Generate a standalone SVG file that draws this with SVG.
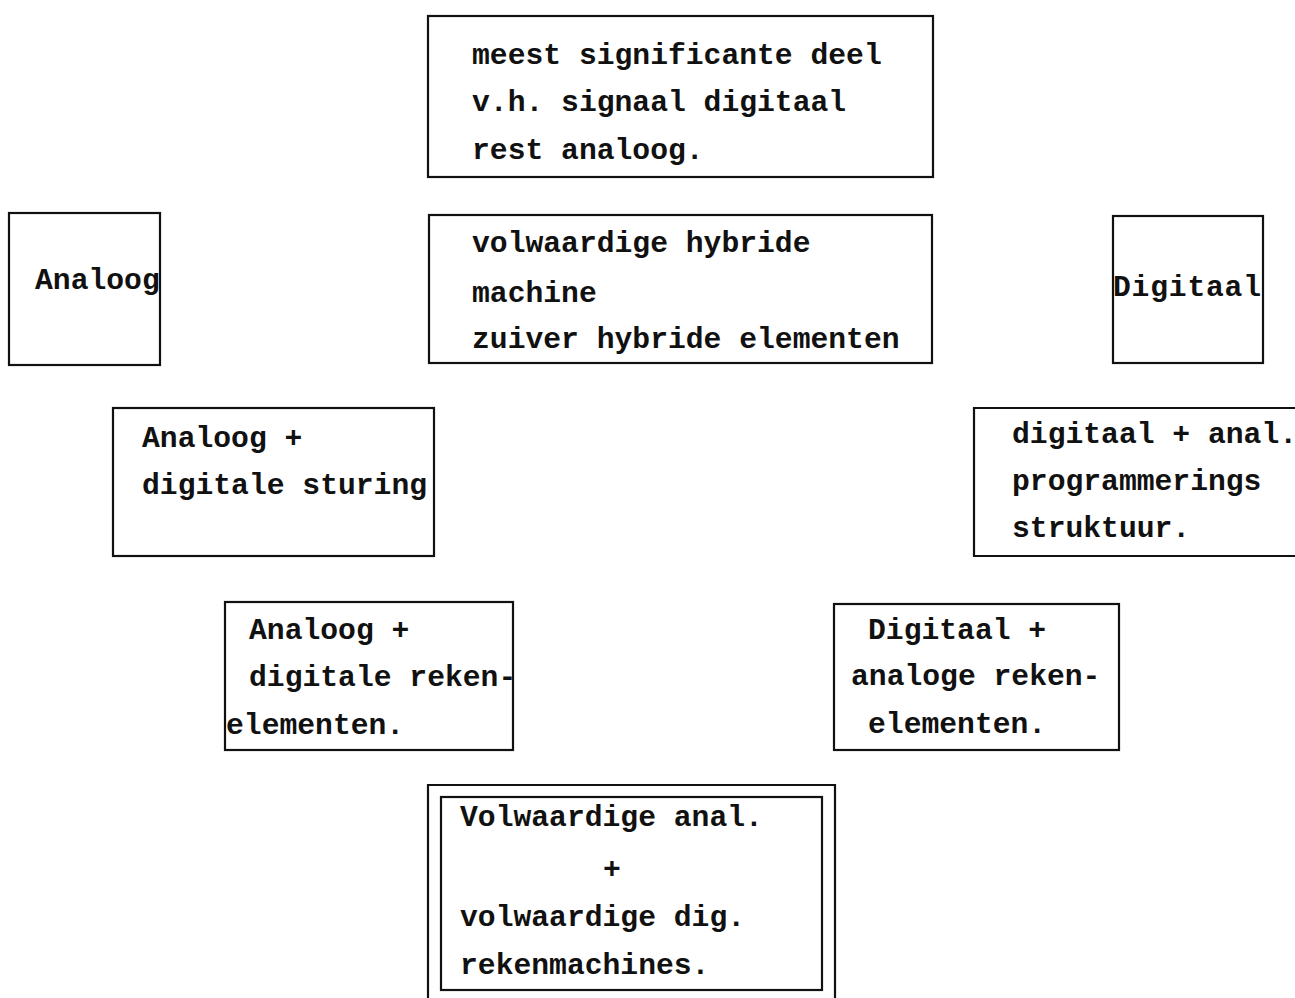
<svg xmlns="http://www.w3.org/2000/svg" width="1295" height="998" viewBox="0 0 1295 998">
<style>
.box{fill:none;stroke:#111;stroke-width:2.2}
.t{font-family:"Liberation Mono","DejaVu Sans Mono",monospace;font-weight:bold;font-size:29.7px;fill:#111}
</style>
<rect width="1295" height="998" fill="#fff"/>
<g id="n-top">
<rect class="box" x="428" y="16" width="505" height="161"/>
<text class="t" x="472" y="64">meest significante deel</text>
<text class="t" x="472" y="111">v.h. signaal digitaal</text>
<text class="t" x="472" y="159">rest analoog.</text>
</g>
<g id="n-analoog">
<rect class="box" x="9" y="213" width="151" height="152"/>
<text class="t" x="35" y="289">Analoog</text>
</g>
<g id="n-hybride">
<rect class="box" x="429" y="215" width="503" height="148"/>
<text class="t" x="472" y="252">volwaardige hybride</text>
<text class="t" x="472" y="302">machine</text>
<text class="t" x="472" y="348">zuiver hybride elementen</text>
</g>
<g id="n-digitaal">
<rect class="box" x="1113" y="216" width="150" height="147"/>
<text class="t" x="1113" y="296" textLength="148">Digitaal</text>
</g>
<g id="n-analoog-sturing">
<rect class="box" x="113" y="408" width="321" height="148"/>
<text class="t" x="142" y="447">Analoog +</text>
<text class="t" x="142" y="494">digitale sturing</text>
</g>
<g id="n-digitaal-prog">
<path class="box" d="M1297 408 H974 V556 H1297"/>
<text class="t" x="1012" y="443">digitaal + anal.</text>
<text class="t" x="1012" y="490">programmerings</text>
<text class="t" x="1012" y="537">struktuur.</text>
</g>
<g id="n-analoog-reken">
<rect class="box" x="225" y="602" width="288" height="148"/>
<text class="t" x="249" y="639">Analoog +</text>
<text class="t" x="249" y="686">digitale reken-</text>
<text class="t" x="226" y="734">elementen.</text>
</g>
<g id="n-digitaal-reken">
<rect class="box" x="834" y="604" width="285" height="146"/>
<text class="t" x="868" y="639">Digitaal +</text>
<text class="t" x="851" y="685">analoge reken-</text>
<text class="t" x="868" y="733">elementen.</text>
</g>
<g id="n-volwaardig">
<path class="box" d="M428 1000 V785 H835 V1000"/>
<rect class="box" x="441" y="797" width="381" height="193"/>
<text class="t" x="460" y="826">Volwaardige anal.</text>
<text class="t" x="603" y="878">+</text>
<text class="t" x="460" y="926">volwaardige dig.</text>
<text class="t" x="460" y="974">rekenmachines.</text>
</g>
<g id="connectors"></g>
</svg>
